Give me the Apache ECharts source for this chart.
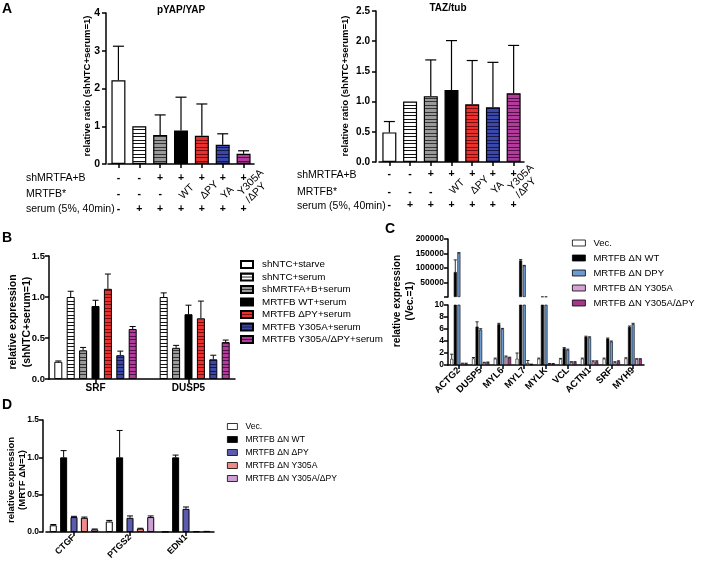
<!DOCTYPE html>
<html><head><meta charset="utf-8">
<script src="https://cdn.jsdelivr.net/npm/echarts@6/dist/echarts.min.js"></script>
<style>html,body{margin:0;padding:0;background:#fff}#c{width:701px;height:566px}</style>
</head><body><div id="c"></div>
<script>
// ---------- DATA ----------
// Panel A
const aRowNames = ['shMRTFA+B', 'MRTFB*', 'serum (5%, 40min)'];
const aShRow = ['-', '-', '+', '+', '+', '+', '+'];
const aMrtfbRow = ['-', '-', '-', 'WT', 'ΔPY', 'YA', 'Y305A\n/ΔPY'];
const aSerumRow = ['-', '+', '+', '+', '+', '+', '+'];
const pyapVals = [2.22, 1.0, 0.77, 0.89, 0.75, 0.51, 0.27];
const pyapErr = [3.12, 1.0, 1.30, 1.77, 1.59, 0.80, 0.35];
const tazVals = [0.49, 1.0, 1.09, 1.19, 0.955, 0.905, 1.14];
const tazErr = [0.67, 1.0, 1.69, 2.01, 1.68, 1.65, 1.93];
const aLeftTicks = [0, 1, 2, 3, 4];
const aRightTicks = [0, 0.5, 1.0, 1.5, 2.0, 2.5];
// Panel B
const bCats = ['SRF', 'DUSP5'];
const bNames = ['shNTC+starve', 'shNTC+serum', 'shMRTFA+B+serum', 'MRTFB WT+serum', 'MRTFB ΔPY+serum', 'MRTFB Y305A+serum', 'MRTFB Y305A/ΔPY+serum'];
const bStarve = [0.21, null];      const bStarveErr = [0.22, null];
const bSerum = [1.0, 1.0];         const bSerumErr = [1.07, 1.05];
const bSh = [0.35, 0.38];          const bShErr = [0.385, 0.41];
const bWt = [0.89, 0.79];          const bWtErr = [0.96, 0.90];
const bDpy = [1.10, 0.74];         const bDpyErr = [1.28, 0.95];
const bY305a = [0.29, 0.24];       const bY305aErr = [0.34, 0.29];
const bBoth = [0.61, 0.45];        const bBothErr = [0.64, 0.475];
const bTicks = [0, 0.5, 1.0, 1.5];
// Panel C
const cCats = ['ACTG2', 'DUSP5', 'MYL6', 'MYL7', 'MYLK', 'VCL', 'ACTN1', 'SRF', 'MYH9'];
const cNames = ['Vec.', 'MRTFB ΔN WT', 'MRTFB ΔN DPY', 'MRTFB ΔN Y305A', 'MRTFB ΔN Y305A/ΔPY'];
const cVec = [1.0, 1.1, 1.05, 1.05, 1.05, 1.0, 1.05, 1.05, 1.1];
const cVecErr = [1.8, 1.25, 1.15, 2.0, 1.15, 1.1, 1.15, 1.15, 1.2];
const cWt = [86000, 6.4, 6.8, 126000, 1500, 2.8, 4.7, 4.4, 6.35];
const cWtErr = [128000, 7.2, 6.95, 129000, 1500, 2.9, 4.8, 4.5, 6.5];
const cDpy = [152000, 5.9, 6.0, 108000, 1300, 2.55, 4.6, 3.9, 6.8];
const cDpyErr = [153000, 6.05, 6.1, 109000, 1300, 2.65, 4.7, 4.0, 6.95];
const cY305a = [0.25, 0.4, 1.4, 0.35, 0.2, 0.5, 0.6, 0.45, 1.0];
const cY305aErr = [0.3, 0.45, 1.5, 0.75, 0.25, 0.55, 0.7, 0.55, 1.05];
const cBoth = [0.25, 0.45, 1.25, 0.1, 0.2, 0.5, 0.6, 0.6, 1.0];
const cBothErr = [0.3, 0.5, 1.3, 0.15, 0.25, 0.55, 0.7, 0.7, 1.05];
const cUpperTicks = [0, 50000, 100000, 150000, 200000];
const cLowerTicks = [0, 2, 4, 6, 8, 10];
// Panel D
const dCats = ['CTGF', 'PTGS2', 'EDN1'];
const dNames = ['Vec.', 'MRTFB ΔN WT', 'MRTFB ΔN ΔPY', 'MRTFB ΔN Y305A', 'MRTFB ΔN Y305A/ΔPY'];
const dVec = [0.09, 0.14, 0.005];     const dVecErr = [0.1, 0.155, 0.005];
const dWt = [1.0, 1.0, 1.0];          const dWtErr = [1.09, 1.36, 1.03];
const dDpy = [0.2, 0.19, 0.31];       const dDpyErr = [0.21, 0.215, 0.335];
const dY305a = [0.19, 0.045, 0.01];   const dY305aErr = [0.2, 0.05, 0.01];
const dBoth = [0.035, 0.2, 0.015];    const dBothErr = [0.04, 0.215, 0.015];
const dTicks = [0, 0.5, 1.0, 1.5];

// ---------- STYLE ----------
const FONT = 'Liberation Sans, Arial, sans-serif';
function stripes(bg, line) {
  const c = document.createElement('canvas'); c.width = 4; c.height = 7;
  const g = c.getContext('2d'); g.fillStyle = bg; g.fillRect(0, 0, 4, 7);
  g.fillStyle = line; g.fillRect(0, 0, 4, 1); g.fillRect(0, 3, 4, 1);
  return { image: c, repeat: 'repeat' };
}
const fillWhite = '#ffffff';
const fillHW = stripes('#ffffff', '#111111');
const fillGray = stripes('#9a9a9a', '#333333');
const fillBlack = '#000000';
const fillRed = stripes('#e8302e', '#7a0e0e');
const fillBlue = stripes('#3a49a8', '#161650');
const fillMag = stripes('#b23c9c', '#55104a');
const aFills = [fillWhite, fillHW, fillGray, fillBlack, fillRed, fillBlue, fillMag];
const bFills = aFills;
const cColors = ['#ffffff', '#000000', '#6c9bd2', '#d7a1d3', '#a3388c'];
const dColors = ['#ffffff', '#000000', '#5b5bb0', '#f08b8b', '#cc9fd6'];

const idx = n => Array.from({ length: n }, (_, i) => String(i));

function valAxis(grid, ticks, offset, fmt, fontSize, margin) {
  return {
    type: 'value', gridIndex: grid, min: ticks[0], max: ticks[ticks.length - 1],
    interval: ticks[1] - ticks[0], offset: offset || 0,
    splitLine: { show: false },
    axisLine: { show: true, onZero: false, lineStyle: { color: '#000', width: 1.5 } },
    axisTick: { show: true, length: 4, lineStyle: { color: '#000', width: 1.5 } },
    axisLabel: { color: '#000', fontWeight: 'bold', fontSize: fontSize, fontFamily: FONT, margin: margin == null ? 4 : margin, formatter: fmt }
  };
}
function mainCat(grid, cats, labelOpts) {
  return {
    type: 'category', gridIndex: grid, data: cats,
    axisLine: { show: true, onZero: false, lineStyle: { color: '#000', width: 1.5 } },
    axisTick: { show: true, alignWithLabel: true, length: 4, lineStyle: { color: '#000', width: 1.5 } },
    splitLine: { show: false },
    axisLabel: Object.assign({ show: true, interval: 0, hideOverlap: false, color: '#000', fontFamily: FONT, fontWeight: 'bold' }, labelOpts || {})
  };
}
function labelAxis(grid, labels, dist, rot, bold) {
  return {
    type: 'category', gridIndex: grid, position: 'bottom', offset: dist, data: idx(labels.length),
    axisLine: { show: false, onZero: false }, axisTick: { show: false }, splitLine: { show: false },
    axisLabel: {
      interval: 0, margin: 0, rotate: rot || 0, align: rot ? 'left' : 'center',
      verticalAlign: rot ? 'middle' : 'top', fontSize: 10.5, lineHeight: 11, fontFamily: FONT,
      fontWeight: bold ? 'bold' : 'normal', color: '#000', hideOverlap: false,
      formatter: (v, i) => labels[i]
    }
  };
}
const isSign = s => s === '-' || s === '+';
const mrtfbDash = aMrtfbRow.map(s => isSign(s) ? s : '');
const mrtfbName = aMrtfbRow.map(s => isSign(s) ? '' : s);

function errSeries(xi, yi, data, nBars, spacing, cap, lw) {
  return {
    type: 'custom', xAxisIndex: xi, yAxisIndex: yi, silent: true, clip: true, z: 5,
    data: data, encode: { x: 0, y: 1 },
    renderItem(params, api) {
      const cat = api.value(0), v = api.value(1), e = api.value(2), k = api.value(3);
      const dx = (k - (nBars - 1) / 2) * spacing;
      const p0 = api.coord([cat, v]), p1 = api.coord([cat, e]);
      const x = p0[0] + dx;
      const st = { stroke: '#000', lineWidth: lw };
      return { type: 'group', children: [
        { type: 'line', shape: { x1: x, y1: p0[1], x2: x, y2: p1[1] }, style: st },
        { type: 'line', shape: { x1: x - cap, y1: p1[1], x2: x + cap, y2: p1[1] }, style: st }
      ] };
    }
  };
}
function errData(vals, errs, k, keep) {
  const out = [];
  vals.forEach((v, i) => {
    const e = errs[i];
    if (v == null || e == null || !(e > v)) return;
    if (keep && !keep(v)) return;
    out.push([i, v, e, k]);
  });
  return out;
}

const series = [];
// Panel A bars
series.push({ type: 'bar', xAxisIndex: 0, yAxisIndex: 0, barWidth: 14,
  itemStyle: { borderColor: '#000', borderWidth: 1.2 },
  data: pyapVals.map((v, i) => ({ value: v, itemStyle: { color: aFills[i] } })) });
series.push(errSeries(0, 0, errData(pyapVals, pyapErr, 0), 1, 0, 5.5, 1.2));
series.push({ type: 'bar', xAxisIndex: 5, yAxisIndex: 1, barWidth: 14,
  itemStyle: { borderColor: '#000', borderWidth: 1.2 },
  data: tazVals.map((v, i) => ({ value: v, itemStyle: { color: aFills[i] } })) });
series.push(errSeries(5, 1, errData(tazVals, tazErr, 0), 1, 0, 5.5, 1.2));

// Panel B
const bVals = [bStarve, bSerum, bSh, bWt, bDpy, bY305a, bBoth];
const bErrs = [bStarveErr, bSerumErr, bShErr, bWtErr, bDpyErr, bY305aErr, bBothErr];
const bBarW = 8, bGap = 0.55;
bVals.forEach((vals, k) => {
  series.push({ type: 'bar', name: bNames[k], xAxisIndex: 10, yAxisIndex: 2, barWidth: bBarW, barGap: (bGap * 100) + '%',
    itemStyle: { color: bFills[k], borderColor: '#000', borderWidth: 1 },
    data: vals.map(v => v == null ? '-' : v) });
});
let bErrAll = [];
bVals.forEach((vals, k) => { bErrAll = bErrAll.concat(errData(vals, bErrs[k], k)); });
series.push(errSeries(10, 2, bErrAll, 7, bBarW * (1 + bGap), 3, 1));

// Panel C
const cVals = [cVec, cWt, cDpy, cY305a, cBoth];
const cErrs = [cVecErr, cWtErr, cDpyErr, cY305aErr, cBothErr];
const cBarW = 3, cGap = 0.2;
const cBreak = cLowerTicks[cLowerTicks.length - 1];
cVals.forEach((vals, k) => {
  series.push({ type: 'bar', name: cNames[k], xAxisIndex: 11, yAxisIndex: 3, barWidth: cBarW, barGap: (cGap * 100) + '%',
    itemStyle: { color: cColors[k], borderColor: '#000', borderWidth: 0.6 },
    data: vals.map(v => v > cBreak ? v : '-') });
  series.push({ type: 'bar', name: cNames[k], xAxisIndex: 12, yAxisIndex: 4, barWidth: cBarW, barGap: (cGap * 100) + '%', clip: true,
    itemStyle: { color: cColors[k], borderColor: '#000', borderWidth: 0.6 },
    data: vals });
});
let cUp = [], cLow = [];
cVals.forEach((vals, k) => {
  cUp = cUp.concat(errData(vals, cErrs[k], k, v => v > cBreak));
  cLow = cLow.concat(errData(vals, cErrs[k], k, v => v <= cBreak));
});
series.push(errSeries(11, 3, cUp, 5, cBarW * (1 + cGap), 1.6, 0.8));
series.push(errSeries(12, 4, cLow, 5, cBarW * (1 + cGap), 1.6, 0.8));

// Panel D
const dVals = [dVec, dWt, dDpy, dY305a, dBoth];
const dErrs = [dVecErr, dWtErr, dDpyErr, dY305aErr, dBothErr];
const dBarW = 7, dGap = 0.48;
dVals.forEach((vals, k) => {
  series.push({ type: 'bar', name: dNames[k], xAxisIndex: 13, yAxisIndex: 5, barWidth: dBarW, barGap: (dGap * 100) + '%',
    itemStyle: { color: dColors[k], borderColor: '#000', borderWidth: 1 },
    data: vals });
});
let dErrAll = [];
dVals.forEach((vals, k) => { dErrAll = dErrAll.concat(errData(vals, dErrs[k], k)); });
series.push(errSeries(13, 5, dErrAll, 5, dBarW * (1 + dGap), 3, 1));

const fmt1 = v => v.toFixed(1);
const gridBase = { containLabel: false, outerBoundsMode: 'none' };
const grids = [
  { left: 108, top: 13, width: 146, height: 151 },
  { left: 379, top: 11, width: 145, height: 151 },
  { left: 49, top: 256, width: 186, height: 123 },
  { left: 448, top: 239, width: 196, height: 58 },
  { left: 448, top: 305, width: 196, height: 60 },
  { left: 46, top: 420, width: 168, height: 112 }
].map(g => Object.assign({}, gridBase, g));

const xAxes = [
  mainCat(0, idx(7), { show: false }),
  labelAxis(0, aShRow, 8.5, 0, true),
  labelAxis(0, mrtfbDash, 25, 0, true),
  labelAxis(0, mrtfbName, 33.5, 45, false),
  labelAxis(0, aSerumRow, 39.5, 0, true),
  mainCat(1, idx(7), { show: false }),
  labelAxis(1, aShRow, 7, 0, true),
  labelAxis(1, mrtfbDash, 25, 0, true),
  labelAxis(1, mrtfbName, 30.5, 45, false),
  labelAxis(1, aSerumRow, 37.5, 0, true),
  mainCat(2, bCats, { fontSize: 10, margin: 4 }),
  Object.assign(mainCat(3, cCats, { show: false }), { show: false }),
  mainCat(4, cCats, { fontSize: 9.5, rotate: 45, margin: 4 }),
  mainCat(5, dCats, { fontSize: 9, rotate: 45, margin: 4 })
];
const yAxes = [
  valAxis(0, aLeftTicks, 2, v => String(v), 10.5, 6),
  valAxis(1, aRightTicks, 3, fmt1, 10, 6),
  valAxis(2, bTicks, 0, fmt1, 9.5, 4),
  valAxis(3, cUpperTicks, 0, v => v === 0 ? '' : String(v), 8.5, 4),
  valAxis(4, cLowerTicks, 0, v => String(v), 8.5, 4),
  valAxis(5, dTicks, 3, fmt1, 8.5, 4)
];

const legTxt = (fs, lh, pl) => ({ fontSize: fs, fontFamily: FONT, color: '#000', lineHeight: lh, padding: [0, 0, 0, pl] });
const legends = [
  { data: bNames, left: 240, top: 258.5, orient: 'vertical', itemWidth: 12, itemHeight: 7, itemGap: 0.5, icon: 'rect', padding: 0, selectedMode: false,
    textStyle: legTxt(9.8, 12, 4) },
  { data: cNames.map((n, k) => ({ name: n, itemStyle: { color: cColors[k], borderColor: '#000', borderWidth: 0.8 } })),
    left: 572, top: 237, orient: 'vertical', itemWidth: 13, itemHeight: 6, itemGap: 3, icon: 'rect', padding: 0, selectedMode: false,
    textStyle: legTxt(9.5, 12, 3) },
  { data: dNames.map((n, k) => ({ name: n, itemStyle: { color: dColors[k], borderColor: '#000', borderWidth: 0.8 } })),
    left: 227, top: 421, orient: 'vertical', itemWidth: 10, itemHeight: 6, itemGap: 2, icon: 'rect', padding: 0, selectedMode: false,
    textStyle: legTxt(8.6, 11, 3) }
];

function T(x, y, text, o) {
  o = o || {};
  return { type: 'text', x: x, y: y, rotation: o.rot || 0, silent: true,
    style: { text: text, fill: '#000', fontFamily: FONT, fontSize: o.fs || 10.5, fontWeight: o.fw || 'normal',
      align: o.align || 'left', verticalAlign: 'middle', lineHeight: o.lh || 12 } };
}
const R = Math.PI / 2;
const graphics = [
  T(2, 9, 'A', { fs: 14, fw: 'bold' }),
  T(2, 238, 'B', { fs: 14, fw: 'bold' }),
  T(385, 229, 'C', { fs: 14, fw: 'bold' }),
  T(2, 405, 'D', { fs: 14, fw: 'bold' }),
  T(181, 10, 'pYAP/YAP', { fs: 10, fw: 'bold', align: 'center' }),
  T(448, 8, 'TAZ/tub', { fs: 10, fw: 'bold', align: 'center' }),
  T(87, 86, 'relative ratio (shNTC+serum=1)', { fs: 9.5, fw: 'bold', align: 'center', rot: R }),
  T(345, 86, 'relative ratio (shNTC+serum=1)', { fs: 9.5, fw: 'bold', align: 'center', rot: R }),
  T(26, 178, aRowNames[0]), T(26, 194, aRowNames[1]), T(26, 209, aRowNames[2]),
  T(297, 175, aRowNames[0]), T(297, 192, aRowNames[1]), T(297, 206, aRowNames[2]),
  T(20, 322, 'relative expression\n(shNTC+serum=1)', { fs: 10.5, fw: 'bold', align: 'center', rot: R, lh: 14 }),
  T(404, 301, 'relative expression\n(Vec.=1)', { fs: 10.2, fw: 'bold', align: 'center', rot: R, lh: 13 }),
  T(16.5, 480, 'relative expression\n(MRTF ΔN=1)', { fs: 9.5, fw: 'bold', align: 'center', rot: R, lh: 11 })
];

const chart = echarts.init(document.getElementById('c'), null, { renderer: 'canvas' });
chart.setOption({
  animation: false, backgroundColor: '#fff',
  textStyle: { fontFamily: FONT },
  grid: grids, xAxis: xAxes, yAxis: yAxes, legend: legends, series: series, graphic: graphics
});
</script></body></html>
